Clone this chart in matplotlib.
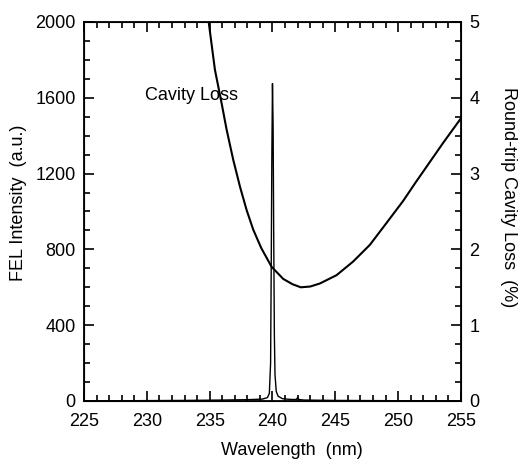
import matplotlib.pyplot as plt
from matplotlib.ticker import MultipleLocator

plt.rcParams['font.family'] = ['Liberation Sans', 'DejaVu Sans']

# FEL spectrum (left axis)
spec_wl = [225, 230, 233, 236, 238, 239.2, 239.6, 239.75, 239.85, 239.9, 239.95,
           240.0, 240.05, 240.1, 240.15, 240.2, 240.3, 240.45, 240.8, 241.5,
           241.9, 242.0, 242.1, 242.5, 245, 255]
spec_int = [0, 2, 3, 5, 7, 10, 18, 40, 200, 700, 1300,
            1675, 1450, 850, 350, 140, 50, 25, 12, 8,
            8, 18, 8, 5, 3, 0]

# cavity loss (right axis)
loss_wl = [234.9, 235.42, 235.95, 236.35, 236.88, 237.41, 237.94, 238.47, 239.1,
           239.93, 240.86, 241.6, 242.25, 243.0, 243.77, 245.1, 246.42, 247.75,
           249.08, 250.4, 251.46, 252.3, 253.6, 255.0]
loss_pct = [5.03, 4.37, 3.93, 3.58, 3.18, 2.83, 2.52, 2.26, 2.02,
            1.77, 1.61, 1.54, 1.50, 1.51, 1.55, 1.66, 1.84, 2.06,
            2.35, 2.64, 2.90, 3.10, 3.41, 3.73]

fig = plt.figure(figsize=(5.2, 4.66), dpi=100)
ax = fig.add_axes([0.1615, 0.1395, 0.725, 0.8133])
ax.plot(spec_wl, spec_int, color='black', lw=1.0)
ax.set_xlim(225, 255)
ax.set_ylim(0, 2000)
ax.xaxis.set_major_locator(MultipleLocator(5))
ax.xaxis.set_minor_locator(MultipleLocator(1))
ax.yaxis.set_major_locator(MultipleLocator(400))
ax.yaxis.set_minor_locator(MultipleLocator(100))
ax.tick_params(which='both', direction='in', top=True, labelsize=13, width=1.2)
ax.tick_params(which='major', length=7)
ax.tick_params(which='minor', length=4)
ax.tick_params(axis='x', pad=9)
ax.tick_params(axis='y', right=False, pad=6)
ax.set_xlabel('Wavelength  (nm)', fontsize=13, va='center')
ax.xaxis.set_label_coords(0.552, -0.13)
ax.set_ylabel('FEL Intensity  (a.u.)', fontsize=13, va='center')
ax.yaxis.set_label_coords(-0.175, 0.522)
ax.text(229.85, 1610, 'Cavity Loss', fontsize=13, va='center', ha='left')
for s in ax.spines.values():
    s.set_linewidth(1.3)

ax2 = ax.twinx()
ax2.plot(loss_wl, loss_pct, color='black', lw=1.5)
ax2.set_ylim(0, 5)
ax2.yaxis.set_major_locator(MultipleLocator(1))
ax2.yaxis.set_minor_locator(MultipleLocator(0.25))
ax2.tick_params(which='both', direction='in', labelsize=13, width=1.2, pad=6)
ax2.tick_params(which='major', length=7)
ax2.tick_params(which='minor', length=4)
ax2.set_ylabel('Round-trip Cavity Loss  (%)', fontsize=13, rotation=270, va='center')
ax2.yaxis.set_label_coords(1.127, 0.538)

fig.savefig('out.png', dpi=100)
